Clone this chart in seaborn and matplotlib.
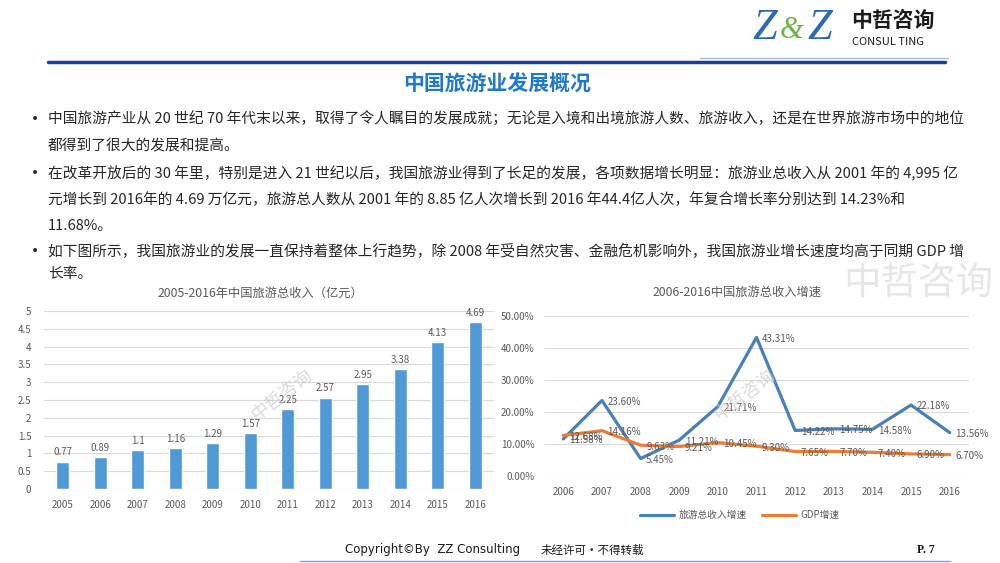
import numpy as np
import pandas as pd
import matplotlib.pyplot as plt
import seaborn as sns

# data
years_rev = ['2005', '2006', '2007', '2008', '2009', '2010', '2011', '2012', '2013', '2014', '2015', '2016']
revenue = [0.77, 0.89, 1.1, 1.16, 1.29, 1.57, 2.25, 2.57, 2.95, 3.38, 4.13, 4.69]
rev_labels = ['0.77', '0.89', '1.1', '1.16', '1.29', '1.57', '2.25', '2.57', '2.95', '3.38', '4.13', '4.69']

years_growth = [2006, 2007, 2008, 2009, 2010, 2011, 2012, 2013, 2014, 2015, 2016]
tour_growth = [11.58, 23.60, 5.45, 11.21, 21.71, 43.31, 14.22, 14.75, 14.58, 22.18, 13.56]
gdp_growth = [12.68, 14.16, 9.63, 9.21, 10.45, 9.30, 7.65, 7.70, 7.40, 6.90, 6.70]
series_names = ['旅游总收入增速', 'GDP增速']

bullets = [
    (119, True, '中国旅游产业从 20 世纪 70 年代末以来，取得了令人瞩目的发展成就；无论是入境和出境旅游人数、旅游收入，还是在世界旅游市场中的地位'),
    (146, False, '都得到了很大的发展和提高。'),
    (173, True, '在改革开放后的 30 年里，特别是进入 21 世纪以后，我国旅游业得到了长足的发展，各项数据增长明显：旅游业总收入从 2001 年的 4,995 亿'),
    (200, False, '元增长到 2016年的 4.69 万亿元，旅游总人数从 2001 年的 8.85 亿人次增长到 2016 年44.4亿人次，年复合增长率分别达到 14.23%和'),
    (226, False, '11.68%。'),
    (251, True, '如下图所示，我国旅游业的发展一直保持着整体上行趋势，除 2008 年受自然灾害、金融危机影响外，我国旅游业增长速度均高于同期 GDP 增'),
    (274, False, '长率。'),
]

sns.set_theme(style='white')
plt.rcParams['font.family'] = ['Noto Sans CJK SC', 'DejaVu Sans']

W, H = 1000, 563
fig = plt.figure(figsize=(10, 5.63), dpi=100)


def fy(py):
    return 1 - py / H


grey = '#595959'
blue_bar = '#4f9ad6'
blue_line = '#4a7fb9'
orange = '#ed7d31'

# header / logo
fig.text(752 / W, fy(28), 'Z', fontsize=32, color='#2a6cb3', family='Liberation Serif',
         style='italic', va='center', ha='left')
fig.text(780 / W, fy(31), '&', fontsize=22, color='#6ab344', family='Liberation Serif',
         style='italic', va='center', ha='left')
fig.text(807 / W, fy(28), 'Z', fontsize=32, color='#2a6cb3', family='Liberation Serif',
         style='italic', va='center', ha='left')
fig.text(851 / W, fy(20), '中哲咨询', fontsize=15, color='#1a1a1a', weight='bold', va='center', ha='left')
fig.text(852 / W, fy(42), 'CONSUL TING', fontsize=8, color='#1a1a1a', va='center', ha='left')
fig.add_artist(plt.Line2D([700 / W, 948 / W], [fy(58), fy(58)], color='#a9bdd9', lw=1))
fig.add_artist(plt.Line2D([48 / W, 945 / W], [fy(62), fy(62)], color='#1d3f8f', lw=2.5))

fig.text(497 / W, fy(84), '中国旅游业发展概况', fontsize=15, color='#1f78c8', weight='bold',
         ha='center', va='center')

for py, bullet, txt in bullets:
    if bullet:
        fig.text(26 / W, fy(py + 1), '•', fontsize=13, color='#262626', ha='left', va='center')
    fig.text(48 / W, fy(py), txt, fontsize=10.6, color='#262626', ha='left', va='center')

# watermarks
fig.text(918 / W, fy(283), '中哲咨询', fontsize=27, color='#e6e6e6', ha='center', va='center', zorder=0)
fig.text(282 / W, fy(395), '中哲咨询', fontsize=13, color='#d0d0d0', rotation=38,
         ha='center', va='center', zorder=5, alpha=0.8)
fig.text(745 / W, fy(395), '中哲咨询', fontsize=13, color='#d0d0d0', rotation=38,
         ha='center', va='center', zorder=5, alpha=0.8)

# left chart: revenue bars
ax1 = fig.add_axes([44 / W, fy(489), 450 / W, (489 - 311) / H])
sns.barplot(x=years_rev, y=revenue, color=blue_bar, width=0.34, saturation=1, ax=ax1)
ax1.bar_label(ax1.containers[0], labels=rev_labels, padding=3, fontsize=7, color=grey)
ax1.set_ylim(0, 5)
ax1.set_xlim(-0.5, 11.5)
ax1.set_yticks(np.arange(0, 5.01, 0.5))
ax1.set_yticklabels(['0', '0.5', '1', '1.5', '2', '2.5', '3', '3.5', '4', '4.5', '5'])
ax1.yaxis.grid(True, color='#d9d9d9', lw=0.8)
ax1.set_axisbelow(True)
ax1.tick_params(axis='both', labelsize=7, colors=grey, length=0)
ax1.tick_params(axis='y', pad=9)
ax1.tick_params(axis='x', pad=8)
sns.despine(ax=ax1, left=True, bottom=True)
ax1.set_xlabel('')
ax1.set_ylabel('')
ax1.set_facecolor('none')
fig.text(260 / W, fy(293), '2005-2016年中国旅游总收入（亿元）', fontsize=8.8, color=grey,
         ha='center', va='center')

# right chart: growth lines
df = pd.DataFrame({
    'year': years_growth * 2,
    'value': tour_growth + gdp_growth,
    'series': [series_names[0]] * len(years_growth) + [series_names[1]] * len(years_growth),
})
ax2 = fig.add_axes([544 / W, fy(476), 425 / W, 160 / H])
sns.lineplot(data=df, x='year', y='value', hue='series', palette=[blue_line, orange],
             linewidth=2.3, ax=ax2, legend=False)
for vals, c in [(tour_growth, blue_line), (gdp_growth, orange)]:
    for x, v in zip(years_growth, vals):
        ax2.annotate(f'{v:.2f}%', (x, v), xytext=(4, -1), textcoords='offset points',
                     fontsize=7, color=grey, ha='left', va='center')
ax2.set_xlim(2005.5, 2016.5)
ax2.set_ylim(0, 50)
ax2.set_xticks(years_growth)
ax2.set_xticklabels([str(y) for y in years_growth])
ax2.set_yticks(np.arange(0, 51, 10))
ax2.set_yticklabels([f'{v:.2f}%' for v in np.arange(0, 51, 10)])
ax2.yaxis.grid(True, color='#d9d9d9', lw=0.8)
ax2.set_axisbelow(True)
ax2.tick_params(axis='both', labelsize=7, colors=grey, length=0)
ax2.tick_params(axis='y', pad=7)
ax2.tick_params(axis='x', pad=8)
sns.despine(ax=ax2, left=True, bottom=True)
ax2.set_xlabel('')
ax2.set_ylabel('')
ax2.set_facecolor('none')
fig.text(737 / W, fy(292), '2006-2016中国旅游总收入增速', fontsize=8.8, color=grey,
         ha='center', va='center')
handles = [plt.Line2D([], [], color=blue_line, lw=2.3), plt.Line2D([], [], color=orange, lw=2.3)]
fig.legend(handles, series_names, loc='center', bbox_to_anchor=(740 / W, fy(515)), ncol=2,
           frameon=False, fontsize=7, labelcolor=grey, handlelength=3.5, columnspacing=1.5,
           handletextpad=0.5)

# footer
fig.text(345 / W, fy(550), 'Copyright©By  ZZ Consulting', fontsize=8.5, color='#1a1a1a',
         family='Liberation Sans Narrow', ha='left', va='center')
fig.text(541 / W, fy(550), '未经许可·不得转载', fontsize=8.3, color='#1a1a1a', ha='left', va='center')
fig.text(917 / W, fy(550), 'P. 7', fontsize=8.5, color='#1a1a1a', family='Liberation Serif',
         weight='bold', ha='left', va='center')
fig.add_artist(plt.Line2D([300 / W, 950 / W], [fy(561), fy(561)], color='#8a9ab8', lw=1))

fig.savefig('out.png', dpi=100)
